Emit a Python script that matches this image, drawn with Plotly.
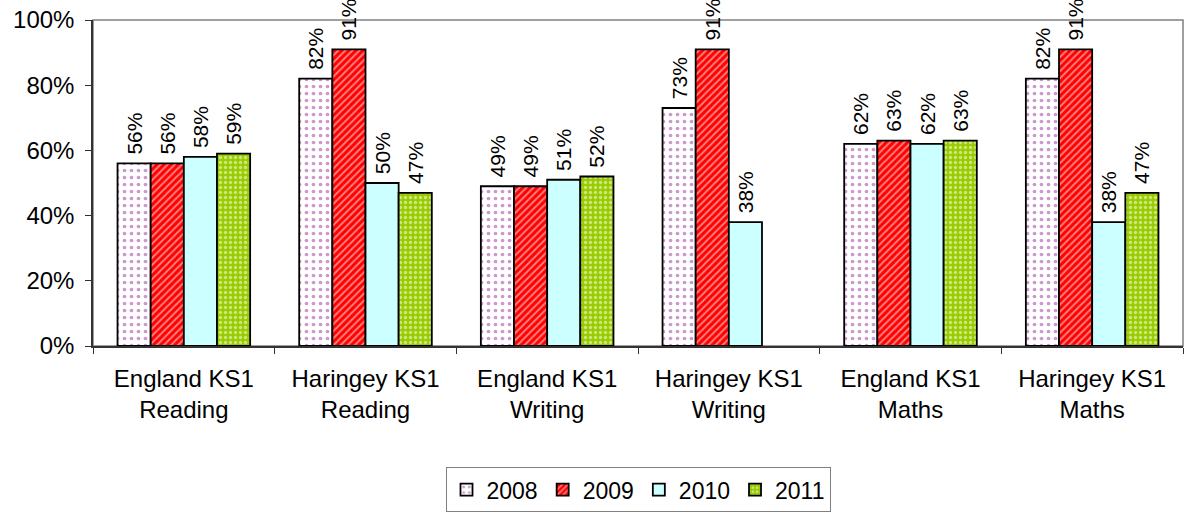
import plotly.graph_objects as go

# Key Stage 1 attainment, England vs Haringey, by year
categories = [
    "England KS1<br>Reading",
    "Haringey KS1<br>Reading",
    "England KS1<br>Writing",
    "Haringey KS1<br>Writing",
    "England KS1<br>Maths",
    "Haringey KS1<br>Maths",
]
years = ["2008", "2009", "2010", "2011"]
values_2008 = [0.56, 0.82, 0.49, 0.73, 0.62, 0.82]
values_2009 = [0.56, 0.91, 0.49, 0.91, 0.63, 0.91]
values_2010 = [0.58, 0.50, 0.51, 0.38, 0.62, 0.38]
values_2011 = [0.59, 0.47, 0.52, None, 0.63, 0.47]

series = [values_2008, values_2009, values_2010, values_2011]

FONT = "Liberation Sans, Arial, sans-serif"

styles = [
    dict(color="white", pattern=dict(shape=".", fgcolor="#993399", bgcolor="white",
                                     size=7, solidity=0.22, fillmode="overlay")),
    dict(color="#FF0000", pattern=dict(shape="/", fgcolor="white", bgcolor="#FF0000",
                                       size=5, solidity=0.4, fillmode="overlay")),
    dict(color="#CCFFFF"),
    dict(color="#99CC00", pattern=dict(shape=".", fgcolor="white", bgcolor="#99CC00",
                                       size=5, solidity=0.35, fillmode="overlay")),
]

fig = go.Figure()
for year, vals, st in zip(years, series, styles):
    marker = dict(line=dict(color="black", width=1.8))
    marker.update(st)
    fig.add_trace(go.Bar(
        name=year,
        x=categories,
        y=vals,
        marker=marker,
        # a non-breaking space lifts the rotated label a little off the bar
        text=["\u00a0" + f"{v:.0%}" if v is not None else "" for v in vals],
        textposition="outside",
        textangle=-90,
        constraintext="none",
        cliponaxis=False,
        textfont=dict(family=FONT, size=21, color="black"),
    ))

fig.update_layout(
    width=1187,
    height=516,
    margin=dict(l=93, r=4, t=20, b=167),
    paper_bgcolor="white",
    plot_bgcolor="white",
    barmode="group",
    bargap=0.27,
    bargroupgap=0,
    font=dict(family=FONT, size=24, color="black"),
    showlegend=True,
    legend=dict(
        orientation="h",
        x=0.5, xanchor="center",
        y=-0.372, yanchor="top",
        bordercolor="#808080", borderwidth=1,
        font=dict(family=FONT, size=23),
        itemwidth=30,
        tracegroupgap=0,
    ),
    shapes=[dict(type="rect", xref="paper", yref="paper", x0=0, y0=0, x1=1, y1=1,
                 line=dict(color="#808080", width=1.5), layer="below")],
)

fig.update_xaxes(
    type="category",
    tickson="boundaries",
    ticks="outside",
    ticklen=6,
    tickcolor="#333333",
    showline=True,
    linecolor="#333333",
    linewidth=1.5,
    showgrid=False,
    ticklabelstandoff=10,
    tickfont=dict(family=FONT, size=24),
)
fig.update_yaxes(
    range=[0, 1],
    dtick=0.2,
    tickformat=".0%",
    ticks="outside",
    ticklen=6,
    tickcolor="#333333",
    showline=True,
    linecolor="#333333",
    linewidth=1.5,
    showgrid=False,
    zeroline=False,
    ticklabelstandoff=6,
    tickfont=dict(family=FONT, size=24),
)

fig.write_html("out.html")
